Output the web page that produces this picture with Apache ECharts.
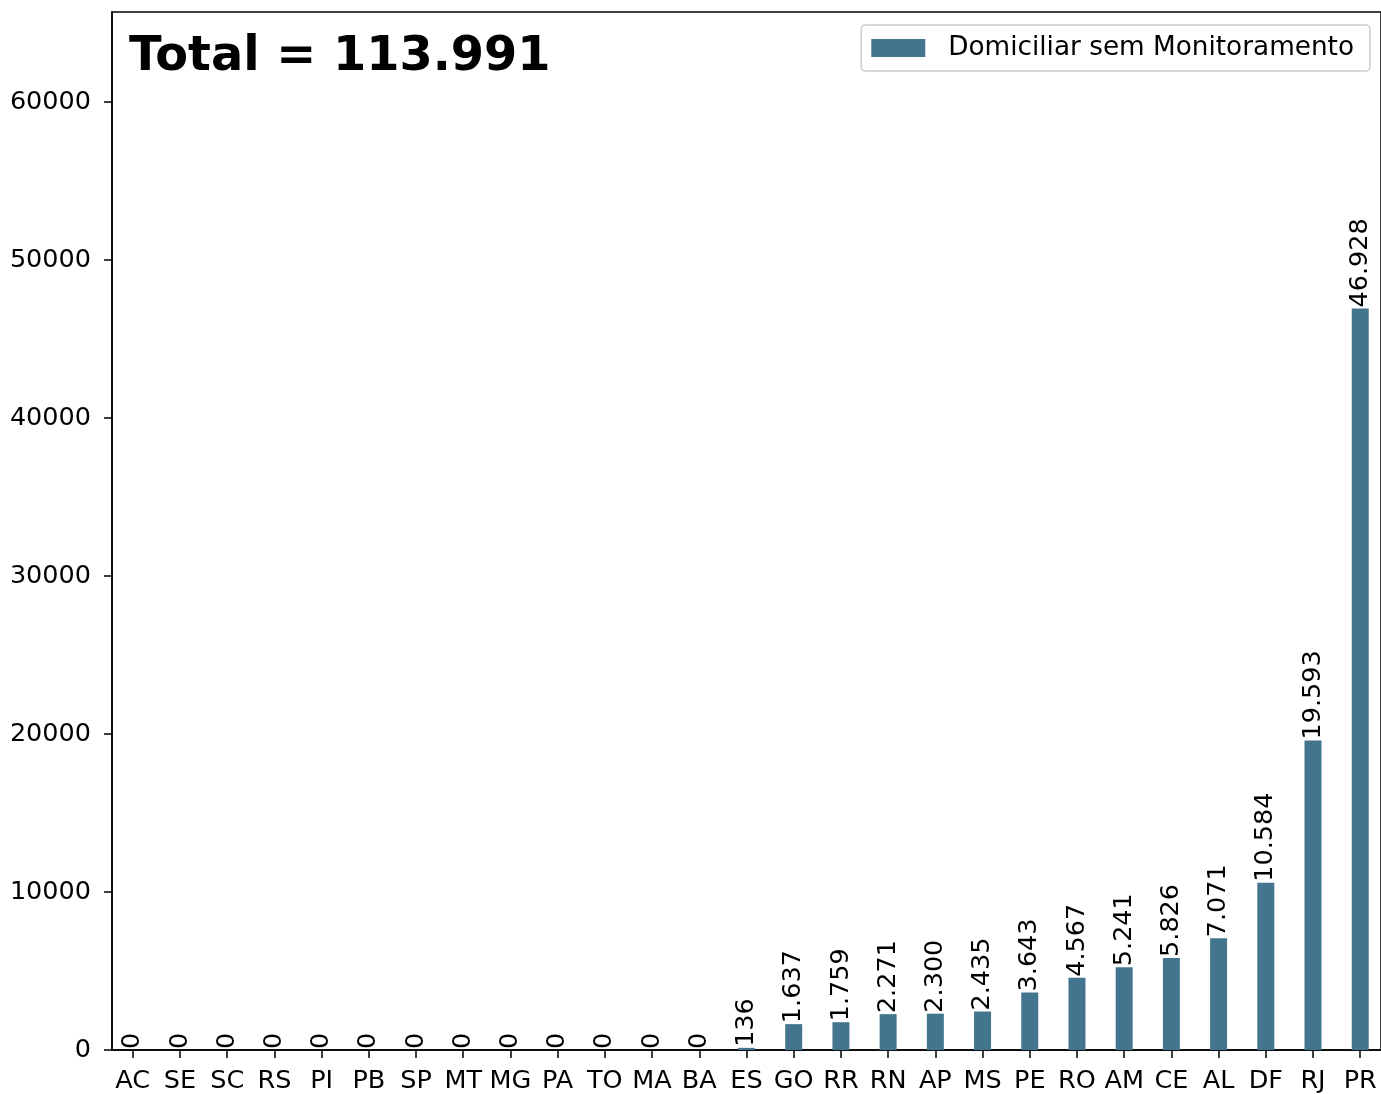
<!DOCTYPE html>
<html>
<head>
<meta charset="utf-8">
<script src="https://cdn.jsdelivr.net/npm/echarts@6/dist/echarts.min.js"></script>
<style>
html,body{margin:0;padding:0;background:#fff;}
#chart{width:1381px;height:1094px;}
</style>
</head>
<body>
<div id="chart"></div>
<script>
const categories = ['AC','SE','SC','RS','PI','PB','SP','MT','MG','PA','TO','MA','BA','ES','GO','RR','RN','AP','MS','PE','RO','AM','CE','AL','DF','RJ','PR'];
const values = [0,0,0,0,0,0,0,0,0,0,0,0,0,136,1637,1759,2271,2300,2435,3643,4567,5241,5826,7071,10584,19593,46928];
const yTicks = [0,10000,20000,30000,40000,50000,60000];
const seriesName = 'Domiciliar sem Monitoramento';
const titleText = 'Total = 113.991';

const FONT = 'DejaVu Sans';
const FS = 25.5;
const fmt = v => String(v).replace(/\B(?=(\d{3})+(?!\d))/g, '.');
const yMax = Math.max(...values) * 1.4;
const xIdx = categories.map((c, i) => i);

const chart = echarts.init(document.getElementById('chart'), null, {renderer: 'canvas'});
chart.setOption({
  animation: false,
  backgroundColor: '#ffffff',
  grid: {left: 112, top: 12, right: -2, bottom: 42, show: true, borderColor: '#000', borderWidth: 1.5, backgroundColor: 'transparent'},
  graphic: [{
    type: 'text', left: 129, top: 34,
    style: {text: titleText, font: 'bold 47.8px "DejaVu Sans"', fill: '#000'}
  }],
  legend: {
    show: true, right: 11, top: 25,
    data: [seriesName],
    itemWidth: 54, itemHeight: 18, itemGap: 10,
    padding: [8, 16, 8, 10],
    borderColor: '#cccccc', borderWidth: 1.5, borderRadius: 4,
    backgroundColor: '#fff',
    textStyle: {fontFamily: FONT, fontSize: 26.3, lineHeight: 30, color: '#000', padding: [0, 0, 0, 18]},
    icon: 'rect'
  },
  xAxis: {
    type: 'value', min: -0.44, max: 26.44,
    splitLine: {show: false},
    axisLine: {show: true, onZero: false, lineStyle: {color: '#000', width: 1.5}},
    axisTick: {show: true, length: 8, lineStyle: {color: '#000', width: 1.5}, customValues: xIdx},
    axisLabel: {show: true, customValues: xIdx, formatter: v => categories[Math.round(v)] || '', fontFamily: FONT, fontSize: FS, color: '#000', margin: 18}
  },
  yAxis: {
    type: 'value', min: 0, max: yMax,
    splitLine: {show: false},
    axisLine: {show: true, onZero: false, lineStyle: {color: '#000', width: 1.5}},
    axisTick: {show: true, length: 8, lineStyle: {color: '#000', width: 1.5}, customValues: yTicks},
    axisLabel: {show: true, customValues: yTicks, formatter: v => String(v), fontFamily: FONT, fontSize: FS, color: '#000', margin: 21}
  },
  series: [{
    name: seriesName,
    type: 'bar',
    barWidth: 17,
    itemStyle: {color: '#44758E'},
    data: values.map((v, i) => [i, v]),
    label: {
      show: true, position: 'top', rotate: 90, distance: 1,
      align: 'left', verticalAlign: 'middle',
      fontFamily: FONT, fontSize: FS, color: '#000',
      formatter: p => fmt(p.value[1])
    }
  }]
});
</script>
</body>
</html>
